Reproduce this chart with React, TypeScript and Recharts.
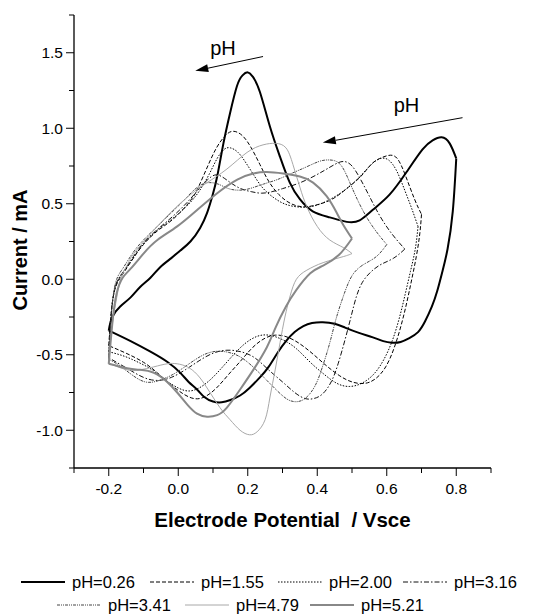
import { LineChart, Line, XAxis, YAxis, ReferenceLine, Label } from 'recharts';

type Pt = [number, number];

// axis ticks (every 0.1 V / 0.25 mA, labels on every other one)
const xTicks = [-0.3, -0.2, -0.1, 0, 0.1, 0.2, 0.3, 0.4, 0.5, 0.6, 0.7, 0.8, 0.9];
const yTicks = [-1.25, -1, -0.75, -0.5, -0.25, 0, 0.25, 0.5, 0.75, 1, 1.25, 1.5, 1.75];

// anodic (forward) and cathodic (reverse) sweeps, [E / Vsce, I / mA]
const ph026Fwd: Pt[] = [[-0.2,-0.34],[-0.19,-0.25],[-0.167,-0.18],[-0.137,-0.12],[-0.109,-0.05],[-0.08,0.01],[-0.052,0.08],[-0.02,0.14],[0.006,0.19],[0.035,0.25],[0.063,0.34],[0.083,0.44],[0.098,0.55],[0.112,0.68],[0.13,0.9],[0.149,1.1],[0.169,1.28],[0.185,1.35],[0.2,1.37],[0.215,1.34],[0.235,1.24],[0.264,1.01],[0.293,0.81],[0.321,0.64],[0.35,0.53],[0.387,0.45],[0.436,0.41],[0.485,0.38],[0.522,0.39],[0.56,0.46],[0.608,0.56],[0.657,0.71],[0.703,0.86],[0.732,0.92],[0.758,0.94],[0.781,0.9],[0.8,0.8]];
const ph026Rev: Pt[] = [[0.8,0.8],[0.79,0.45],[0.775,0.2],[0.76,0.05],[0.745,-0.08],[0.73,-0.18],[0.71,-0.28],[0.69,-0.35],[0.665,-0.39],[0.64,-0.415],[0.615,-0.42],[0.59,-0.41],[0.56,-0.385],[0.52,-0.355],[0.48,-0.32],[0.45,-0.295],[0.416,-0.285],[0.385,-0.29],[0.36,-0.31],[0.335,-0.35],[0.31,-0.41],[0.285,-0.49],[0.26,-0.58],[0.235,-0.65],[0.205,-0.72],[0.178,-0.77],[0.15,-0.8],[0.125,-0.815],[0.1,-0.81],[0.075,-0.78],[0.054,-0.73],[0.03,-0.68],[0.006,-0.62],[-0.03,-0.55],[-0.08,-0.48],[-0.137,-0.41],[-0.2,-0.34]];

const ph155Fwd: Pt[] = [[-0.2,-0.44],[-0.192,-0.2],[-0.18,-0.05],[-0.158,0.04],[-0.129,0.14],[-0.1,0.23],[-0.06,0.32],[-0.014,0.4],[0.035,0.52],[0.06,0.62],[0.085,0.75],[0.11,0.87],[0.135,0.95],[0.158,0.98],[0.185,0.95],[0.21,0.87],[0.235,0.76],[0.26,0.65],[0.29,0.56],[0.325,0.5],[0.365,0.48],[0.41,0.5],[0.45,0.54],[0.49,0.61],[0.525,0.68],[0.555,0.76],[0.58,0.8],[0.605,0.82],[0.63,0.8],[0.655,0.68],[0.68,0.53],[0.7,0.43]];
const ph155Rev: Pt[] = [[0.7,0.43],[0.695,0.3],[0.685,0.15],[0.672,0.0],[0.658,-0.15],[0.642,-0.3],[0.622,-0.45],[0.597,-0.58],[0.567,-0.66],[0.535,-0.69],[0.5,-0.68],[0.465,-0.64],[0.425,-0.57],[0.385,-0.49],[0.345,-0.42],[0.31,-0.38],[0.28,-0.37],[0.25,-0.39],[0.215,-0.45],[0.18,-0.54],[0.145,-0.63],[0.11,-0.72],[0.075,-0.78],[0.045,-0.79],[0.015,-0.76],[-0.02,-0.7],[-0.06,-0.62],[-0.1,-0.55],[-0.15,-0.49],[-0.2,-0.44]];

const ph200Fwd: Pt[] = [[-0.2,-0.48],[-0.192,-0.2],[-0.178,-0.03],[-0.155,0.06],[-0.127,0.15],[-0.098,0.24],[-0.058,0.33],[-0.012,0.41],[0.035,0.51],[0.065,0.6],[0.09,0.7],[0.112,0.8],[0.132,0.86],[0.15,0.87],[0.172,0.84],[0.195,0.77],[0.22,0.68],[0.245,0.6],[0.275,0.54],[0.305,0.5],[0.34,0.48],[0.38,0.48],[0.42,0.51],[0.46,0.56],[0.5,0.63],[0.535,0.71],[0.56,0.77],[0.583,0.8],[0.605,0.79],[0.628,0.72],[0.65,0.6],[0.67,0.48],[0.69,0.35]];
const ph200Rev: Pt[] = [[0.69,0.35],[0.682,0.2],[0.668,0.05],[0.653,-0.1],[0.637,-0.25],[0.617,-0.4],[0.592,-0.53],[0.562,-0.63],[0.527,-0.69],[0.492,-0.71],[0.457,-0.69],[0.42,-0.63],[0.38,-0.55],[0.34,-0.46],[0.3,-0.4],[0.26,-0.37],[0.225,-0.38],[0.19,-0.43],[0.155,-0.51],[0.12,-0.6],[0.09,-0.67],[0.06,-0.72],[0.03,-0.74],[0.0,-0.72],[-0.035,-0.67],[-0.075,-0.6],[-0.115,-0.55],[-0.155,-0.51],[-0.2,-0.48]];

const ph316Fwd: Pt[] = [[-0.2,-0.52],[-0.192,-0.22],[-0.18,-0.04],[-0.158,0.05],[-0.129,0.15],[-0.1,0.24],[-0.06,0.33],[-0.014,0.42],[0.03,0.52],[0.06,0.6],[0.085,0.66],[0.105,0.69],[0.125,0.68],[0.15,0.64],[0.18,0.6],[0.21,0.58],[0.24,0.57],[0.27,0.58],[0.3,0.6],[0.34,0.63],[0.38,0.67],[0.42,0.72],[0.45,0.76],[0.475,0.78],[0.5,0.75],[0.525,0.66],[0.55,0.55],[0.58,0.42],[0.615,0.3],[0.652,0.2]];
const ph316Rev: Pt[] = [[0.652,0.2],[0.62,0.14],[0.585,0.1],[0.555,0.05],[0.53,-0.02],[0.512,-0.12],[0.497,-0.25],[0.48,-0.4],[0.46,-0.56],[0.44,-0.68],[0.415,-0.76],[0.39,-0.79],[0.365,-0.79],[0.335,-0.75],[0.3,-0.68],[0.26,-0.6],[0.22,-0.52],[0.18,-0.48],[0.14,-0.47],[0.1,-0.49],[0.06,-0.54],[0.02,-0.6],[-0.02,-0.65],[-0.06,-0.67],[-0.1,-0.65],[-0.14,-0.6],[-0.17,-0.56],[-0.2,-0.52]];

const ph341Fwd: Pt[] = [[-0.2,-0.53],[-0.192,-0.22],[-0.18,-0.02],[-0.16,0.07],[-0.132,0.17],[-0.1,0.26],[-0.06,0.35],[-0.02,0.44],[0.015,0.52],[0.045,0.59],[0.07,0.63],[0.09,0.64],[0.115,0.63],[0.145,0.6],[0.175,0.59],[0.205,0.6],[0.245,0.63],[0.285,0.66],[0.325,0.7],[0.365,0.74],[0.405,0.78],[0.43,0.79],[0.45,0.785],[0.47,0.75],[0.49,0.66],[0.515,0.53],[0.545,0.4],[0.575,0.3],[0.6,0.23]];
const ph341Rev: Pt[] = [[0.6,0.23],[0.57,0.15],[0.535,0.1],[0.505,0.04],[0.485,-0.05],[0.468,-0.16],[0.452,-0.28],[0.435,-0.43],[0.415,-0.58],[0.395,-0.7],[0.37,-0.78],[0.345,-0.81],[0.318,-0.8],[0.29,-0.75],[0.255,-0.67],[0.215,-0.58],[0.175,-0.51],[0.135,-0.48],[0.1,-0.48],[0.065,-0.51],[0.025,-0.57],[-0.015,-0.63],[-0.055,-0.67],[-0.095,-0.68],[-0.135,-0.63],[-0.17,-0.57],[-0.2,-0.53]];

const ph479Fwd: Pt[] = [[-0.2,-0.56],[-0.19,-0.3],[-0.18,-0.16],[-0.166,0.0],[-0.148,0.09],[-0.128,0.17],[-0.08,0.3],[-0.023,0.44],[0.035,0.56],[0.083,0.64],[0.14,0.73],[0.198,0.84],[0.244,0.89],[0.28,0.9],[0.31,0.87],[0.33,0.76],[0.35,0.61],[0.37,0.48],[0.4,0.35],[0.436,0.26],[0.475,0.21],[0.5,0.17]];
const ph479Rev: Pt[] = [[0.5,0.17],[0.475,0.15],[0.417,0.11],[0.37,0.06],[0.34,0.0],[0.322,-0.11],[0.307,-0.25],[0.293,-0.42],[0.279,-0.6],[0.264,-0.78],[0.25,-0.93],[0.227,-1.01],[0.205,-1.03],[0.178,-1.0],[0.149,-0.93],[0.12,-0.85],[0.083,-0.72],[0.054,-0.63],[0.026,-0.58],[-0.003,-0.56],[-0.032,-0.56],[-0.07,-0.58],[-0.11,-0.6],[-0.147,-0.6],[-0.185,-0.57],[-0.2,-0.56]];

const ph521Fwd: Pt[] = [[-0.2,-0.56],[-0.19,-0.3],[-0.178,-0.1],[-0.16,0.01],[-0.137,0.07],[-0.1,0.17],[-0.06,0.26],[-0.003,0.35],[0.055,0.46],[0.112,0.57],[0.17,0.66],[0.216,0.7],[0.255,0.71],[0.302,0.7],[0.35,0.68],[0.388,0.64],[0.427,0.55],[0.456,0.44],[0.475,0.36],[0.5,0.27]];
const ph521Rev: Pt[] = [[0.5,0.27],[0.462,0.16],[0.417,0.09],[0.38,0.04],[0.34,-0.07],[0.31,-0.18],[0.28,-0.32],[0.255,-0.45],[0.216,-0.6],[0.178,-0.73],[0.14,-0.85],[0.112,-0.9],[0.083,-0.91],[0.054,-0.89],[0.026,-0.83],[-0.003,-0.75],[-0.032,-0.68],[-0.07,-0.62],[-0.11,-0.6],[-0.147,-0.59],[-0.2,-0.56]];

const toRows = (pts: Pt[]) => pts.map(([x, y]) => ({ x, y }));

const series = [
  { name: 'pH=0.26', fwd: ph026Fwd, rev: ph026Rev, color: '#000000', width: 2, dash: undefined },
  { name: 'pH=1.55', fwd: ph155Fwd, rev: ph155Rev, color: '#000000', width: 1, dash: '4 2' },
  { name: 'pH=2.00', fwd: ph200Fwd, rev: ph200Rev, color: '#000000', width: 1, dash: '1.5 1.5' },
  { name: 'pH=3.16', fwd: ph316Fwd, rev: ph316Rev, color: '#111111', width: 1, dash: '5 2 1.5 2' },
  { name: 'pH=3.41', fwd: ph341Fwd, rev: ph341Rev, color: '#444444', width: 1, dash: '3 1 1 1 1 1' },
  { name: 'pH=4.79', fwd: ph479Fwd, rev: ph479Rev, color: '#a8a8a8', width: 1, dash: undefined },
  { name: 'pH=5.21', fwd: ph521Fwd, rev: ph521Rev, color: '#888888', width: 2, dash: undefined },
];

// legend layout, two rows like the original
const legendRows = [
  [0, 1, 2, 3],
  [4, 5, 6],
];
const legendX = [
  [13, 142, 270, 395],
  [49, 177, 302],
];

const FONT = '"Liberation Sans", Arial, sans-serif';

const XTick = ({ x, y, payload }: any) => {
  const v = payload.value;
  const major = Math.round(v * 10) % 2 === 0;
  return (
    <g>
      <line x1={x} x2={x} y1={y} y2={y + (major ? 8 : 5)} stroke="#000" />
      {major && (
        <text x={x} y={y + 26} textAnchor="middle" fontSize={15.5} fontFamily={FONT} fill="#000">
          {v.toFixed(1)}
        </text>
      )}
    </g>
  );
};

const YTick = ({ x, y, payload }: any) => {
  const v = payload.value;
  const major = Math.round(v * 4) % 2 === 0;
  return (
    <g>
      <line x1={x} x2={x - (major ? 8 : 5)} y1={y} y2={y} stroke="#000" />
      {major && (
        <text x={x - 11} y={y + 5.5} textAnchor="end" fontSize={15.5} fontFamily={FONT} fill="#000">
          {v.toFixed(1)}
        </text>
      )}
    </g>
  );
};

const arrowShape = (dx: number, dy: number) => (props: any) => {
  const { x1, y1, x2, y2 } = props;
  const ang = Math.atan2(y2 - y1, x2 - x1);
  const len = 13;
  const hw = 4;
  const bx = x2 - len * Math.cos(ang);
  const by = y2 - len * Math.sin(ang);
  const px = -Math.sin(ang) * hw;
  const py = Math.cos(ang) * hw;
  return (
    <g>
      <line x1={x1} y1={y1} x2={bx} y2={by} stroke="#000" strokeWidth={1} />
      <polygon points={`${x2},${y2} ${bx + px},${by + py} ${bx - px},${by - py}`} fill="#000" />
      <text x={x1 + dx} y={y1 + dy} textAnchor="middle" fontSize={20} fontFamily={FONT} fill="#000">
        pH
      </text>
    </g>
  );
};

export default function App() {
  return (
    <div style={{ position: 'relative', width: 525, height: 607, fontFamily: FONT }}>
      <LineChart width={525} height={545} margin={{ top: 7, right: 42, bottom: 0, left: 0 }}>
        <XAxis
          type="number"
          dataKey="x"
          domain={[-0.3, 0.9]}
          ticks={xTicks}
          interval={0}
          allowDataOverflow
          height={85}
          tickSize={0}
          tickMargin={0}
          tickLine={false}
          tick={XTick}
          axisLine={{ stroke: '#000', strokeWidth: 1.3 }}
        >
          <Label
            content={(p: any) => {
              const vb = p.viewBox || { x: 66, y: 460, width: 417 };
              return (
                <text x={vb.x + vb.width / 2} y={vb.y + 59} textAnchor="middle" fontSize={20.5} fontWeight="bold" fontFamily={FONT} fill="#000">
                  {'Electrode Potential\u00a0 / Vsce'}
                </text>
              );
            }}
          />
        </XAxis>
        <YAxis
          type="number"
          domain={[-1.25, 1.75]}
          ticks={yTicks}
          interval={0}
          allowDataOverflow
          width={66}
          tickSize={0}
          tickMargin={0}
          tickLine={false}
          tick={YTick}
          axisLine={{ stroke: '#000', strokeWidth: 1.3 }}
        >
          <Label
            content={() => (
              <text x={12} y={242} transform="rotate(-90, 12, 242)" textAnchor="middle" dominantBaseline="central" fontSize={20} fontWeight="bold" fontFamily={FONT} fill="#000">
                Current / mA
              </text>
            )}
          />
        </YAxis>

        {series.flatMap((s) =>
          [s.fwd, s.rev].map((pts, i) => (
            <Line
              key={`${s.name}-${i}`}
              data={toRows(pts)}
              dataKey="y"
              type="natural"
              stroke={s.color}
              strokeWidth={s.width}
              strokeDasharray={s.dash}
              dot={false}
              activeDot={false}
              isAnimationActive={false}
            />
          ))
        )}

        <ReferenceLine
          segment={[{ x: 0.244, y: 1.475 }, { x: 0.049, y: 1.38 }]}
          shape={arrowShape(-40, -2)}
        />
        <ReferenceLine
          segment={[{ x: 0.818, y: 1.07 }, { x: 0.416, y: 0.905 }]}
          shape={arrowShape(-56, -6)}
        />
      </LineChart>

      <svg width={525} height={62} style={{ position: 'absolute', left: 0, top: 545, overflow: 'visible' }}>
        {legendRows.map((row, r) =>
          row.map((idx, k) => {
            const s = series[idx];
            const x0 = legendX[r][k];
            const cy = r === 0 ? 29 : 52;
            return (
              <g key={s.name}>
                <line x1={x0} x2={x0 + 44} y1={cy} y2={cy} stroke={s.color} strokeWidth={s.width} strokeDasharray={s.dash} />
                <text x={x0 + 51} y={cy + 6} fontSize={16.5} fontFamily={FONT} fill="#000">
                  {s.name}
                </text>
              </g>
            );
          })
        )}
      </svg>
    </div>
  );
}
